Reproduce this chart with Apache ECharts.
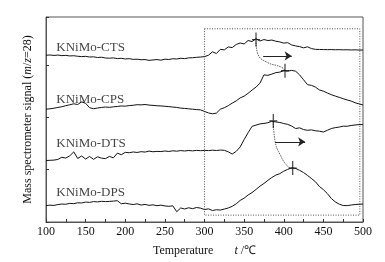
<!DOCTYPE html>
<html>
<head>
<meta charset="utf-8">
<script src="https://cdn.jsdelivr.net/npm/echarts@6/dist/echarts.min.js"></script>
<style>
  html, body { margin: 0; padding: 0; background: #fff; }
  #chart { width: 385px; height: 262px; }
</style>
</head>
<body>
<div id="chart"></div>
<script>
// temperature (°C), shared by all four curves
const temps = [
  100, 105, 110, 115, 120, 125, 130, 135, 140, 145,
  150, 155, 160, 165, 170, 175, 180, 185, 190, 195,
  200, 205, 210, 215, 220, 225, 230, 235, 240, 245,
  250, 255, 260, 265, 270, 275, 280, 285, 290, 295,
  300, 305, 310, 315, 320, 325, 330, 335, 340, 345,
  350, 355, 360, 365, 370, 375, 380, 385, 390, 395,
  400, 405, 410, 415, 420, 425, 430, 435, 440, 445,
  450, 455, 460, 465, 470, 475, 480, 485, 490, 495,
  500
]

// signal (arbitrary units, curves stacked with offsets)
const ctsSignal = [
  170, 170.3, 169.8, 170.2, 169.6, 169.9, 169.3, 169.5, 169, 168.6,
  168.9, 168.2, 168.4, 167.7, 168, 167.2, 167, 167.3, 166.6, 166.9,
  166.2, 166.5, 165.8, 166, 165.4, 165.6, 164.8, 165.2, 165.6, 165,
  166, 165.7, 166.4, 166.2, 166.9, 166.6, 167.3, 167.5, 167.9, 168.2,
  168.6, 170, 173.5, 171.8, 176, 175.5, 178.5, 177.8, 181, 182.5,
  181.5, 185, 184, 187, 184.5, 186, 185, 185.5, 184.3, 183.6,
  182.4, 182.8, 180.5, 179.5, 178.8, 177.6, 178.6, 176.8, 176, 175.9,
  175.8, 175.7, 175.8, 175.6, 175.7, 175.5, 175.6, 175.4, 175.5, 175.3,
  175.3
]
const cpsSignal = [
  115, 115.4, 116, 116.8, 117.5, 118.6, 119.5, 120.5, 119.8, 122.5,
  121, 116.5, 115.5, 116.2, 116.8, 117.2, 116.9, 117.4, 117.8, 118.3,
  118.1, 118.7, 119, 119.6, 119.4, 119.8, 119.2, 118.9, 118.5, 118.3,
  118, 117.6, 117.2, 116.8, 116.1, 115.8, 115.4, 115, 114.6, 114.3,
  112.7, 111.2, 110.3, 111, 115, 116.5, 118.6, 121.2, 123.5, 126.5,
  128.3, 131.2, 134.5, 137.5, 141.6, 150, 149.5, 150.8, 152.3, 152.8,
  154.2, 153.8, 154.6, 153.7, 150, 145, 140, 139.3, 137.5, 134.6,
  133.4, 131.5, 129.8, 128.4, 127.1, 125.7, 124.4, 123.3, 121.6, 120.4,
  119.3
]
const dtsSignal = [
  62.7, 62.9, 63.1, 63.8, 66, 65.2, 67.5, 71.5, 64.8, 67.3,
  64.2, 66.8, 63.9, 66.5, 65.1, 64.6, 66.9, 65.4, 70.2, 68.6,
  71, 70.6, 71.4, 70.9, 71.7, 71.3, 72.3, 71.6, 72, 71.8,
  72.4, 71.9, 72.6, 72.2, 72.8, 72.4, 72.9, 72.5, 73, 72.7,
  73, 72.8, 73.2, 72.9, 73.3, 73.1, 71.5, 69.3, 72, 76.5,
  84, 91, 97.5, 98.8, 100, 100.5, 101.2, 102.7, 102, 101.5,
  100.4, 99.5, 97.8, 95.3, 96, 94.2, 93.5, 93.9, 93, 92.6,
  91.7, 93.5, 95.3, 96.2, 96.8, 97.7, 97.6, 98.4, 98.9, 99.3,
  99.3
]
const dpsSignal = [
  16.7, 17.2, 16.9, 17.8, 18.3, 18.1, 19, 18.7, 19.6, 19.4,
  20.3, 20, 20.8, 20.5, 21.1, 20.8, 21, 21.3, 21.7, 18.6,
  19.2, 18.4, 17.8, 18.5, 17.3, 17.9, 17, 17.5, 16.6, 17.2,
  16.4, 16, 16.5, 10.5, 14.3, 13.3, 14.5, 13.6, 14.8, 14.1,
  12.7, 13.4, 11.7, 12.5, 12.2, 13.2, 14.3, 16, 18.5, 22,
  24.3, 27.5, 30, 33.2, 36.5, 39.3, 42.5, 45.4, 47.8, 49.3,
  51.8, 53.6, 55.3, 54.6, 52.7, 50.4, 47.5, 44.3, 41, 36.2,
  33, 29, 24, 20.5, 18.2, 16.8, 16.7, 17.3, 17.8, 18.1,
  18.3
]

const sampleNames = ['KNiMo-CTS', 'KNiMo-CPS', 'KNiMo-DTS', 'KNiMo-DPS']
const nameAnchors = [[113, 177.7], [113, 125], [113, 80], [113, 30]]

// peak maxima (+ marks)
const peaks = [[365, 186], [401.6, 154.3], [386.8, 103], [411.3, 55]]

// dotted curves linking the peaks, and the shift arrows
const ctsToCps = [[365, 183], [367.5, 171], [378.5, 163], [397.4, 157.7], [401.5, 154.3]]
const dtsToDps = [[386.8, 102.7], [389, 82.7], [395, 69.3], [405.8, 56], [411.3, 54.3]]
const ctsArrow = [[374, 169.3], [410, 169.3]]
const dtsArrow = [[389, 81.7], [427, 81.7]]

// dotted window box (300–500 °C)
const windowBox = [[300, 197], [496, 7]]

const fontFamily = "'Liberation Serif', 'Times New Roman', serif"
const pair = (vals) => temps.map((t, i) => [t, vals[i]])

const chart = echarts.init(document.getElementById('chart'))

const curveSeries = [ctsSignal, cpsSignal, dtsSignal, dpsSignal].map((vals, i) => ({
  name: sampleNames[i],
  type: 'line',
  data: pair(vals),
  showSymbol: false,
  lineStyle: { color: '#111', width: 1 },
  silent: true,
  z: 3
}))

curveSeries[0].markArea = {
  silent: true,
  itemStyle: {
    color: 'rgba(0,0,0,0)',
    borderColor: '#555',
    borderWidth: 1,
    borderType: [1, 1.5]
  },
  data: [[{ coord: windowBox[0] }, { coord: windowBox[1] }]]
}

const linkSeries = (pts, arrow) => ({
  type: 'line',
  data: pts,
  smooth: true,
  showSymbol: false,
  silent: true,
  lineStyle: { color: '#333', width: 0.8, type: [1.5, 1] },
  markLine: {
    silent: true,
    symbol: ['none', 'arrow'],
    symbolSize: 7,
    label: { show: false },
    lineStyle: { color: '#222', width: 1, type: 'solid' },
    data: [[{ coord: arrow[0] }, { coord: arrow[1] }]]
  }
})

const option = {
  animation: false,
  textStyle: { fontFamily: fontFamily },
  grid: {
    left: 46,
    right: 22,
    top: 17,
    bottom: 36,
    show: true,
    borderColor: '#555',
    borderWidth: 1
  },
  xAxis: {
    type: 'value',
    min: 100,
    max: 500,
    interval: 50,
    name: 'Temperature       {i|t} /℃',
    nameLocation: 'middle',
    nameGap: 23,
    nameTextStyle: {
      fontFamily: fontFamily,
      fontSize: 12,
      color: '#111',
      rich: { i: { fontStyle: 'italic', fontFamily: fontFamily, fontSize: 12, color: '#111' } }
    },
    axisLine: { lineStyle: { color: '#555', width: 1 } },
    axisTick: { inside: true, length: 3, lineStyle: { color: '#333' } },
    minorTick: { show: true, splitNumber: 2, length: 3, lineStyle: { color: '#333' } },
    splitLine: { show: false },
    axisLabel: { fontFamily: fontFamily, fontSize: 12, color: '#111', margin: 4 }
  },
  yAxis: {
    type: 'value',
    min: 0,
    max: 209,
    interval: 53.3,
    name: 'Mass spectrometer signal ({i|m}/{i|z}=28)',
    nameLocation: 'middle',
    nameGap: 12,
    nameTextStyle: {
      fontFamily: fontFamily,
      fontSize: 12,
      color: '#111',
      rich: { i: { fontStyle: 'italic', fontFamily: fontFamily, fontSize: 12, color: '#111' } }
    },
    axisLine: { show: true, lineStyle: { color: '#555', width: 1 } },
    axisTick: { show: true, inside: true, length: 3, lineStyle: { color: '#333' } },
    splitLine: { show: false },
    axisLabel: { show: false }
  },
  series: [
    ...curveSeries,
    linkSeries(ctsToCps, ctsArrow),
    linkSeries(dtsToDps, dtsArrow),
    {
      name: 'peaks',
      type: 'scatter',
      data: peaks,
      silent: true,
      symbol: 'path://M-0.6,-7L0.6,-7L0.6,7L-0.6,7ZM-4,-0.6L4,-0.6L4,0.6L-4,0.6Z',
      symbolSize: [8, 14],
      symbolKeepAspect: false,
      itemStyle: { color: '#111' },
      z: 5
    },
    {
      name: 'labels',
      type: 'scatter',
      data: nameAnchors.map((p, i) => ({ value: p, name: sampleNames[i] })),
      symbolSize: 0,
      silent: true,
      label: {
        show: true,
        position: 'right',
        distance: 0,
        formatter: '{b}',
        fontFamily: fontFamily,
        fontSize: 13,
        color: '#111'
      }
    }
  ]
}

chart.setOption(option)
</script>
</body>
</html>
